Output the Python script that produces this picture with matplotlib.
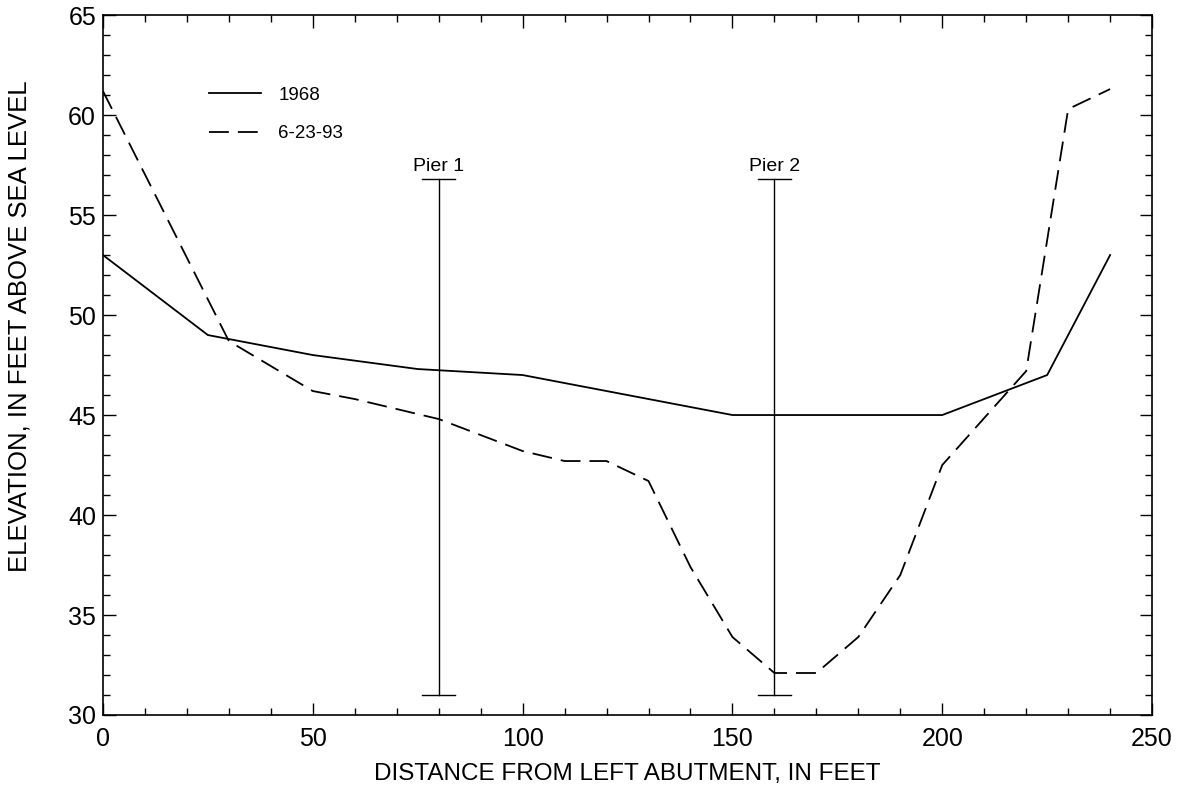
import matplotlib.pyplot as plt
from matplotlib.ticker import MultipleLocator

plt.rcParams['font.family'] = ['Liberation Sans', 'DejaVu Sans']

# survey of 1968
x_1968 = [0, 25, 50, 75, 100, 150, 160, 200, 225, 240]
y_1968 = [53.0, 49.0, 48.0, 47.3, 47.0, 45.0, 45.0, 45.0, 47.0, 53.0]

# survey of 6-23-93
x_1993 = [0, 30, 50, 60, 80, 100, 110, 120, 130, 140, 150, 160, 170, 180, 190, 200, 220, 230, 240]
y_1993 = [61.2, 48.7, 46.2, 45.8, 44.8, 43.2, 42.7, 42.7, 41.7, 37.4, 33.9, 32.1, 32.1, 33.9, 37.0, 42.5, 47.2, 60.3, 61.3]

# piers: station, bottom, top
pier_names = ["Pier 1", "Pier 2"]
pier_x = [80, 160]
pier_bottom = [31.0, 31.0]
pier_top = [56.8, 56.8]

fig = plt.figure(figsize=(11.78, 7.94), dpi=100)
ax = fig.add_axes([0.0874, 0.0995, 0.8906, 0.8815])

ax.plot(x_1968, y_1968, color="black", lw=1.3, label="1968")
ax.plot(x_1993, y_1993, color="black", lw=1.3, dashes=(11, 5), label="6-23-93")

for name, px, pb, pt in zip(pier_names, pier_x, pier_bottom, pier_top):
    ax.plot([px, px], [pb, pt], color="black", lw=1.0)
    ax.plot([px - 4, px + 4], [pt, pt], color="black", lw=1.0)
    ax.plot([px - 4, px + 4], [pb, pb], color="black", lw=1.0)
    ax.text(px, pt + 0.2, name, ha="center", va="bottom", fontsize=14)

ax.set_xlim(0, 250)
ax.set_ylim(30, 65)
ax.xaxis.set_major_locator(MultipleLocator(50))
ax.xaxis.set_minor_locator(MultipleLocator(10))
ax.yaxis.set_major_locator(MultipleLocator(5))
ax.yaxis.set_minor_locator(MultipleLocator(1))
ax.tick_params(which="both", direction="in", top=True, right=True, labelsize=18, width=1.0)
ax.tick_params(axis="x", pad=9)
ax.tick_params(axis="y", pad=5)
ax.tick_params(which="major", length=9)
ax.tick_params(which="minor", length=5)
for s in ax.spines.values():
    s.set_linewidth(1.2)

ax.set_xlabel("DISTANCE FROM LEFT ABUTMENT, IN FEET", fontsize=17.5, labelpad=8)
ax.set_ylabel("ELEVATION, IN FEET ABOVE SEA LEVEL", fontsize=18.5)
ax.yaxis.set_label_coords(-0.068, 0.555)

ax.legend(loc="upper left", bbox_to_anchor=(0.085, 0.922), frameon=False, fontsize=13.5,
          handlelength=2.75, handletextpad=0.95, labelspacing=1.15)

fig.savefig("out.png", dpi=100)
